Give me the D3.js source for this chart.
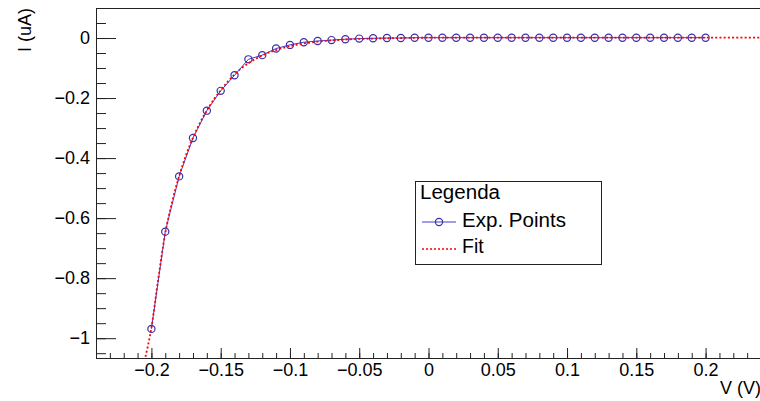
<!DOCTYPE html>
<html>
<head>
<meta charset="utf-8">
<script src="https://cdn.jsdelivr.net/npm/d3@7"></script>
<style>
  html, body { margin: 0; padding: 0; background: #fff; }
  svg { display: block; font-family: "Liberation Sans", Arial, Helvetica, sans-serif; }
</style>
</head>
<body>
<svg id="chart" width="760" height="401"></svg>
<script>
// ---- data ----
const voltages = [-0.20,-0.19,-0.18,-0.17,-0.16,-0.15,-0.14,-0.13,-0.12,-0.11,-0.10,
  -0.09,-0.08,-0.07,-0.06,-0.05,-0.04,-0.03,-0.02,-0.01,0.00,
  0.01,0.02,0.03,0.04,0.05,0.06,0.07,0.08,0.09,0.10,
  0.11,0.12,0.13,0.14,0.15,0.16,0.17,0.18,0.19,0.20];
const currents = [-0.969,-0.645,-0.461,-0.333,-0.242,-0.176,-0.124,-0.071,-0.057,-0.035,-0.023,
  -0.014,-0.010,-0.007,-0.004,-0.002,-0.001,0.000,0.000,0.001,0.001,
  0.001,0.001,0.001,0.001,0.001,0.001,0.001,0.001,0.001,0.001,
  0.001,0.001,0.001,0.001,0.001,0.001,0.001,0.001,0.001,0.001];
const fitV = [-0.205,-0.200,-0.195,-0.190,-0.185,-0.180,-0.175,-0.170,-0.165,-0.160,-0.155,-0.150,-0.145,-0.140,
  -0.130,-0.120,-0.110,-0.100,-0.090,-0.080,-0.070,-0.060,-0.050,-0.040,-0.030,-0.020,0.000,0.240];
const fitI = [-1.075,-0.965,-0.800,-0.650,-0.545,-0.460,-0.390,-0.332,-0.283,-0.241,-0.205,-0.174,-0.146,-0.121,
  -0.084,-0.058,-0.040,-0.027,-0.018,-0.012,-0.008,-0.005,-0.003,-0.002,-0.001,0.000,0.001,0.001];
const xTickValues = [-0.2,-0.15,-0.1,-0.05,0,0.05,0.1,0.15,0.2];
const xTickLabels = ["\u22120.2","\u22120.15","\u22120.1","\u22120.05","0","0.05","0.1","0.15","0.2"];
const yTickValues = [0,-0.2,-0.4,-0.6,-0.8,-1];
const yTickLabels = ["0","\u22120.2","\u22120.4","\u22120.6","\u22120.8","\u22121"];
const legendTitle = "Legenda";
const seriesNames = ["Exp. Points", "Fit"];
const xTitle = "V (V)";
const yTitle = "I (uA)";

// ---- layout ----
const L = 96, R = 761, T = 8, B = 358;
const svg = d3.select("#chart");
const x = d3.scaleLinear().domain([-0.24, 0.24]).range([L, R]);
const y = d3.scaleLinear().domain([0.1, -1.066]).range([T, B]);

svg.append("defs").append("clipPath").attr("id","frameclip")
  .append("rect").attr("x", L).attr("y", T).attr("width", R - L).attr("height", B - T);

// minor y ticks
const yMinor = d3.range(-1.05, 0.1001, 0.05).map(v => Math.round(v*100)/100);
svg.append("g").attr("transform", `translate(${L},0)`)
  .call(d3.axisLeft(y).tickValues(yMinor).tickSize(-10).tickFormat(""))
  .call(g => g.select(".domain").remove())
  .call(g => g.selectAll("line").attr("stroke", "#222"));
// major y ticks
svg.append("g").attr("transform", `translate(${L},0)`)
  .call(d3.axisLeft(y).tickValues(yTickValues).tickSize(-20).tickPadding(6)
    .tickFormat((d,i) => yTickLabels[i]))
  .call(g => g.select(".domain").remove())
  .call(g => g.selectAll("line").attr("stroke", "#222"))
  .call(g => g.selectAll("text").attr("font-size", 18).attr("fill", "#000")
    .attr("font-family", '"Liberation Sans", Arial, sans-serif'));

// minor x ticks
const xMinor = d3.range(-0.24, 0.2401, 0.01).map(v => Math.round(v*100)/100);
svg.append("g").attr("transform", `translate(0,${B})`)
  .call(d3.axisBottom(x).tickValues(xMinor).tickSize(-5).tickFormat(""))
  .call(g => g.select(".domain").remove())
  .call(g => g.selectAll("line").attr("stroke", "#222"));
// major x ticks
svg.append("g").attr("transform", `translate(0,${B})`)
  .call(d3.axisBottom(x).tickValues(xTickValues).tickSize(-10).tickPadding(5)
    .tickFormat((d,i) => xTickLabels[i]))
  .call(g => g.select(".domain").remove())
  .call(g => g.selectAll("line").attr("stroke", "#222"))
  .call(g => g.selectAll("text").attr("font-size", 18).attr("fill", "#000")
    .attr("font-family", '"Liberation Sans", Arial, sans-serif'));

// frame
svg.append("rect").attr("x", L + 0.5).attr("y", T + 0.5)
  .attr("width", R - L).attr("height", B - T)
  .attr("fill", "none").attr("stroke", "#222").attr("stroke-width", 1);

// plot content
const plot = svg.append("g").attr("clip-path", "url(#frameclip)");
const pts = voltages.map((v, i) => [v, currents[i]]);
const fitPts = fitV.map((v, i) => [v, fitI[i]]);

plot.append("path").datum(pts)
  .attr("d", d3.line().x(d => x(d[0])).y(d => y(d[1])))
  .attr("fill", "none").attr("stroke", "#3c3cd0").attr("stroke-width", 1);

plot.selectAll("circle.pt").data(pts).join("circle").attr("class","pt")
  .attr("cx", d => x(d[0])).attr("cy", d => y(d[1])).attr("r", 3.6)
  .attr("fill", "none").attr("stroke", "#3a2fa8").attr("stroke-width", 1.2);

plot.append("path").datum(fitPts)
  .attr("d", d3.line().curve(d3.curveMonotoneX).x(d => x(d[0])).y(d => y(d[1])))
  .attr("fill", "none").attr("stroke", "#ff0000").attr("stroke-width", 1.8)
  .attr("stroke-dasharray", "2,2.2");

// axis titles
svg.append("text").attr("x", 761).attr("y", 394).attr("text-anchor", "end")
  .attr("font-size", 18).attr("fill", "#000").text(xTitle);
svg.append("text").attr("transform", "translate(31,8) rotate(-90)")
  .attr("text-anchor", "end").attr("font-size", 18).attr("fill", "#000").text(yTitle);

// legend
const lg = svg.append("g");
lg.append("rect").attr("x", 415.5).attr("y", 181.5).attr("width", 186).attr("height", 83)
  .attr("fill", "#fff").attr("stroke", "#222").attr("stroke-width", 1);
lg.append("text").attr("x", 420).attr("y", 199).attr("font-size", 19.5).attr("fill", "#000")
  .attr("textLength", 80).attr("lengthAdjust", "spacingAndGlyphs").text(legendTitle);
lg.append("line").attr("x1", 422).attr("x2", 456).attr("y1", 222).attr("y2", 222)
  .attr("stroke", "#3c3cd0").attr("stroke-width", 1);
lg.append("circle").attr("cx", 439).attr("cy", 222).attr("r", 3.6)
  .attr("fill", "none").attr("stroke", "#3a2fa8").attr("stroke-width", 1.2);
lg.append("text").attr("x", 462).attr("y", 227).attr("font-size", 19.5).attr("fill", "#000")
  .attr("textLength", 104).attr("lengthAdjust", "spacingAndGlyphs").text(seriesNames[0]);
lg.append("line").attr("x1", 422).attr("x2", 456).attr("y1", 249).attr("y2", 249)
  .attr("stroke", "#ff0000").attr("stroke-width", 1.5).attr("stroke-dasharray", "2,2");
lg.append("text").attr("x", 462).attr("y", 253).attr("font-size", 19.5).attr("fill", "#000")
  .text(seriesNames[1]);
</script>
</body>
</html>
